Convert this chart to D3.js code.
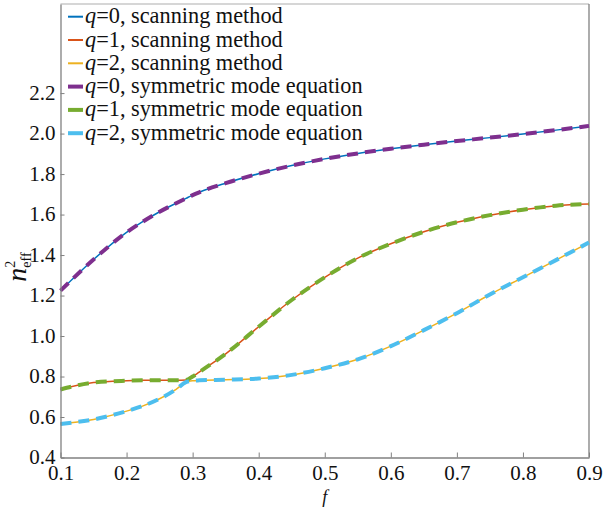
<!DOCTYPE html>
<html>
<head>
<meta charset="utf-8">
<script src="https://cdn.jsdelivr.net/npm/d3@7.9.0/dist/d3.min.js"></script>
<style>
  body { margin: 0; background: #fff; }
  svg text { font-family: "Liberation Serif", "Times New Roman", "DejaVu Serif", serif; fill: #111; }
</style>
</head>
<body>
<svg id="chart" width="603" height="507"></svg>
<script>
const serif = '"Liberation Serif", "Times New Roman", "DejaVu Serif", serif';

// f values (filling fraction)
const fValues = [0.1, 0.15, 0.2, 0.225, 0.25, 0.275, 0.29, 0.3, 0.31, 0.35, 0.4, 0.45, 0.5, 0.55, 0.6, 0.65, 0.7, 0.75, 0.8, 0.85, 0.9];

// n_eff^2 (both methods overlap, so each pair shares one array)
const q0Values = [1.224, 1.378, 1.512, 1.566, 1.614, 1.656, 1.680, 1.696, 1.710, 1.755, 1.802, 1.842, 1.875, 1.902, 1.925, 1.945, 1.963, 1.980, 1.998, 2.017, 2.038];
const q1Values = [0.736, 0.770, 0.779, 0.781, 0.782, 0.782, 0.783, 0.800, 0.822, 0.912, 1.046, 1.178, 1.290, 1.385, 1.456, 1.515, 1.562, 1.597, 1.624, 1.644, 1.652];
const q2Values = [0.566, 0.588, 0.629, 0.655, 0.690, 0.737, 0.772, 0.779, 0.781, 0.784, 0.790, 0.808, 0.841, 0.885, 0.950, 1.029, 1.113, 1.205, 1.290, 1.375, 1.462];

const xTicks = [0.1, 0.2, 0.3, 0.4, 0.5, 0.6, 0.7, 0.8, 0.9];
const yTicks = [0.4, 0.6, 0.8, 1.0, 1.2, 1.4, 1.6, 1.8, 2.0, 2.2];

const legendLabels = [
  "=0, scanning method",
  "=1, scanning method",
  "=2, scanning method",
  "=0, symmetric mode equation",
  "=1, symmetric mode equation",
  "=2, symmetric mode equation"
];

const margin = { top: 4, right: 14, bottom: 49.5, left: 60.5 };
const width = 603 - margin.left - margin.right;
const height = 507 - margin.top - margin.bottom;

const svg = d3.select("#chart");
const g = svg.append("g").attr("transform", `translate(${margin.left},${margin.top})`);

const x = d3.scaleLinear().domain([0.1, 0.9]).range([0, width]);
const y = d3.scaleLinear().domain([0.4, 2.64]).range([height, 0]);

const series = [
  { values: q0Values, color: "#0072BD", width: 1.5, dash: null },
  { values: q1Values, color: "#D95319", width: 1.5, dash: null },
  { values: q2Values, color: "#EDB120", width: 1.5, dash: null },
  { values: q0Values, color: "#7E2F8E", width: 4, dash: "11,7" },
  { values: q1Values, color: "#77AC30", width: 4, dash: "11,7" },
  { values: q2Values, color: "#4DBEEE", width: 4, dash: "11,7" }
];

const line = d3.line()
  .x(d => x(d[0]))
  .y(d => y(d[1]))
  .curve(d3.curveMonotoneX);

// frame
g.append("line").attr("x1", 0).attr("x2", width).attr("y1", 0).attr("y2", 0)
  .attr("stroke", "#c8c8c8").attr("stroke-width", 1.5);
g.append("line").attr("x1", width).attr("x2", width).attr("y1", 0).attr("y2", height)
  .attr("stroke", "#808080").attr("stroke-width", 1.3);

series.forEach(s => {
  g.append("path")
    .datum(fValues.map((f, i) => [f, s.values[i]]))
    .attr("d", line)
    .attr("fill", "none")
    .attr("stroke", s.color)
    .attr("stroke-width", s.width)
    .attr("stroke-dasharray", s.dash);
});

const xAxis = g.append("g")
  .attr("transform", `translate(0,${height})`)
  .call(d3.axisBottom(x).tickValues(xTicks).tickSizeInner(-5).tickSizeOuter(0).tickPadding(8)
    .tickFormat(d3.format(".1f")));

const yAxis = g.append("g")
  .call(d3.axisLeft(y).tickValues(yTicks).tickSizeInner(-4).tickSizeOuter(0).tickPadding(5)
    .tickFormat(d3.format(".1f")));

[xAxis, yAxis].forEach(a => {
  a.attr("font-family", serif);
  a.select(".domain").attr("stroke", "#808080").attr("stroke-width", 1.3);
  a.selectAll(".tick line").attr("stroke", "#808080");
  a.selectAll("text").attr("font-size", 21).attr("fill", "#111");
});
yAxis.selectAll("text").attr("dy", "0.3em");

// legend
const legend = svg.append("g");
legendLabels.forEach((label, i) => {
  const cy = 16.7 + i * 23.3;
  const s = series[i];
  legend.append("line")
    .attr("x1", 68).attr("x2", 83).attr("y1", cy).attr("y2", cy)
    .attr("stroke", s.color).attr("stroke-width", s.dash ? 4 : 2);
  const t = legend.append("text")
    .attr("x", 85).attr("y", cy + 6.5)
    .attr("font-size", 22.3);
  t.append("tspan").attr("font-style", "italic").text("q");
  t.append("tspan").text(label);
});

// axis labels
svg.append("text")
  .attr("x", margin.left + width / 2)
  .attr("y", 503)
  .attr("text-anchor", "middle")
  .attr("font-size", 18)
  .attr("font-style", "italic")
  .text("f");

const yl = svg.append("text")
  .attr("transform", "translate(26,267) rotate(-90)")
  .attr("text-anchor", "middle")
  .attr("font-size", 28);
yl.append("tspan").attr("font-style", "italic").text("n");
yl.append("tspan").attr("font-size", 14).attr("dy", -11).text("2");
yl.append("tspan").attr("font-size", 14).attr("dx", -7).attr("dy", 16).text("eff");
</script>
</body>
</html>
